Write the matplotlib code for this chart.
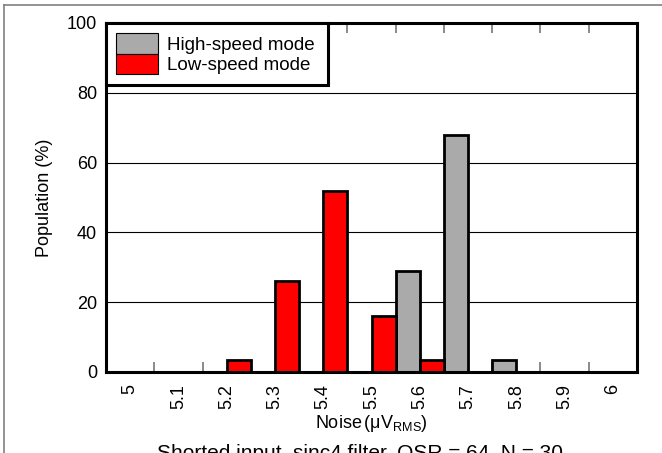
import numpy as np
import matplotlib
matplotlib.use("Agg")
import matplotlib.pyplot as plt
from matplotlib.patches import Patch
from matplotlib.lines import Line2D

plt.rcParams['font.family'] = ['Liberation Sans', 'DejaVu Sans']
plt.rcParams['mathtext.fontset'] = 'custom'
plt.rcParams['mathtext.rm'] = 'Liberation Sans'

categories = ["5", "5.1", "5.2", "5.3", "5.4", "5.5", "5.6", "5.7", "5.8", "5.9", "6"]
high_speed = [0, 0, 0, 0, 0, 0, 29, 68, 3.3, 0, 0]
low_speed = [0, 0, 3.3, 26, 52, 16, 3.3, 0, 0, 0, 0]
series_names = ["High-speed mode", "Low-speed mode"]
yticks = [0, 20, 40, 60, 80, 100]

GRAY = '#AAAAAA'
RED = '#FF0000'

W, H = 662, 453
fig = plt.figure(figsize=(W / 100, H / 100), dpi=100)
ax = fig.add_axes([106 / W, (H - 372) / H, 531 / W, 349 / H])

x = np.arange(len(categories))
ax.bar(x - 0.25, high_speed, width=0.5, color=GRAY, edgecolor='black', linewidth=2, zorder=3)
ax.bar(x + 0.25, low_speed, width=0.5, color=RED, edgecolor='black', linewidth=2, zorder=3)

ax.set_xlim(-0.5, len(categories) - 0.5)
ax.set_ylim(0, 100)
ax.set_yticks(yticks)
ax.set_yticklabels([str(v) for v in yticks])
ax.set_xticks(x)
ax.set_xticklabels(categories, rotation=90)
ax.set_xticks(np.arange(0.5, len(categories) - 0.5, 1), minor=True)

ax.tick_params(axis='x', which='major', length=0, pad=8.6, labelsize=13)
ax.tick_params(axis='x', which='minor', direction='in', length=7, width=1.2,
               color='#777777', top=True, bottom=True)
ax.tick_params(axis='y', which='major', length=0, pad=6.5, labelsize=13)

ax.yaxis.grid(True, color='black', linewidth=0.8)
ax.set_axisbelow(True)

for s in ax.spines.values():
    s.set_linewidth(2.2)
    s.set_color('black')
    s.set_zorder(4)

ax.set_ylabel('Population (%)', fontsize=13, labelpad=10)
ax.set_xlabel(r'Noise$\,$(μV$_{\mathregular{RMS}}$)', fontsize=13, labelpad=3)

handles = [Patch(facecolor=GRAY, edgecolor='black', linewidth=0.8),
           Patch(facecolor=RED, edgecolor='black', linewidth=0.8)]
leg = ax.legend(handles, series_names, loc='upper left',
                bbox_to_anchor=(0, 0, 222 / 531, 1), mode='expand',
                borderaxespad=0, fontsize=13.5, handlelength=2.2, handleheight=1.3,
                labelspacing=0, handletextpad=0.5, borderpad=0.55,
                fancybox=False, framealpha=1, edgecolor='black')
leg.get_frame().set_linewidth(2.2)
leg.set_zorder(5)

# figure border
fig.add_artist(Line2D([3.5 / W, 3.5 / W], [0, 1 - 4.5 / H], color='#808080', linewidth=1.2))
fig.add_artist(Line2D([3.5 / W, 1], [1 - 4.5 / H, 1 - 4.5 / H], color='#808080', linewidth=1.2))

fig.text(360 / W, 1 - 444 / H, 'Shorted input, sinc4 filter, OSR = 64, N = 30',
         ha='center', va='top', fontsize=15)

fig.savefig('out.png', dpi=100)
